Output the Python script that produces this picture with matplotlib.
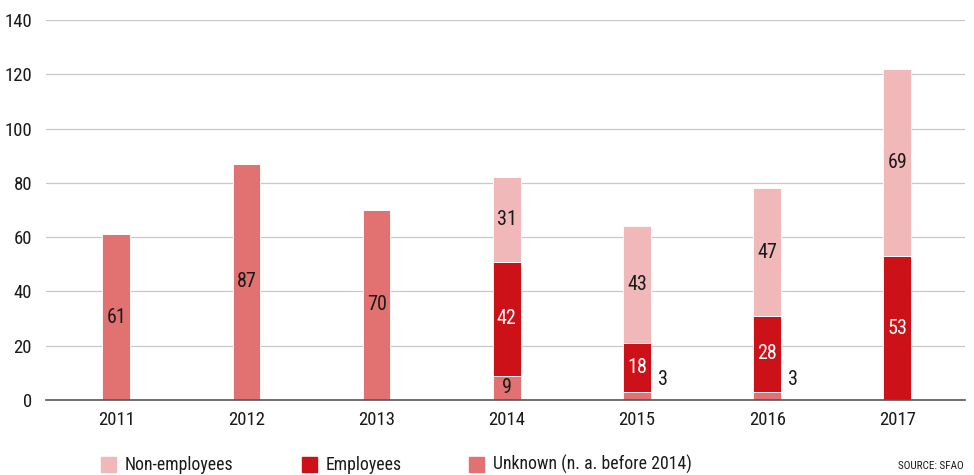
import matplotlib
matplotlib.use("Agg")
import matplotlib.pyplot as plt
from matplotlib.patches import Rectangle
import numpy as np

plt.rcParams['font.family'] = ['Roboto Condensed', 'Open Sans Condensed', 'DejaVu Sans']
plt.rcParams['font.stretch'] = 'condensed'

years = ["2011", "2012", "2013", "2014", "2015", "2016", "2017"]
unknown = [61, 87, 70, 9, 3, 3, 0]
employees = [0, 0, 0, 42, 18, 28, 53]
non_employees = [0, 0, 0, 31, 43, 47, 69]

c_unknown = "#e27171"
c_emp = "#cc1118"
c_non = "#f0b8b9"
labels_legend = ["Non-employees", "Employees", "Unknown (n. a. before 2014)"]

fig = plt.figure(figsize=(9.74, 4.75), dpi=100)
ax = fig.add_axes([46 / 974, 75 / 475, (965 - 46) / 974, 380 / 475])

x = np.arange(len(years))
w = 0.213
unk = np.array(unknown)
emp = np.array(employees)
non = np.array(non_employees)

ax.bar(x, unk, w, color=c_unknown, edgecolor="white", linewidth=0.6, zorder=3)
ax.bar(x, emp, w, bottom=unk, color=c_emp, edgecolor="white", linewidth=0.6, zorder=3)
ax.bar(x, non, w, bottom=unk + emp, color=c_non, edgecolor="white", linewidth=0.6, zorder=3)

fs = 13.5
fs_bar = 14.5
fs_leg = 12.8
for i in range(len(years)):
    if unk[i] > 0:
        if unk[i] >= 5:
            ax.text(x[i], unk[i] / 2, str(unk[i]), ha="center", va="center",
                    fontsize=fs_bar, color="#1a1a1a", zorder=4)
        else:
            ax.text(x[i] + 0.2, unk[i] + 4.5, str(unk[i]), ha="center", va="center",
                    fontsize=fs_bar, color="#1a1a1a", zorder=4)
    if emp[i] > 0:
        ax.text(x[i], unk[i] + emp[i] / 2, str(emp[i]), ha="center", va="center",
                fontsize=fs_bar, color="white", zorder=4)
    if non[i] > 0:
        ax.text(x[i], unk[i] + emp[i] + non[i] / 2, str(non[i]), ha="center", va="center",
                fontsize=fs_bar, color="#1a1a1a", zorder=4)

ax.set_xlim(-0.54, 6.52)
ax.set_ylim(0, 140)
ax.set_yticks(np.arange(0, 141, 20))
ax.set_xticks(x)
ax.set_xticklabels(years)
ax.yaxis.grid(True, color="#c8c8c8", linewidth=0.9, zorder=0)
ax.set_axisbelow(True)
for s in ["top", "right", "left"]:
    ax.spines[s].set_visible(False)
ax.spines["bottom"].set_color("#555555")
ax.spines["bottom"].set_linewidth(1.2)
ax.spines["bottom"].set_zorder(5)
ax.tick_params(axis="both", length=0, labelsize=fs, colors="#1a1a1a")
ax.tick_params(axis="y", pad=10)
ax.tick_params(axis="x", pad=8)

# legend row
items = [(101, c_non, labels_legend[0]), (302, c_emp, labels_legend[1]), (469, c_unknown, labels_legend[2])]
for px, col, lab in items:
    fig.add_artist(Rectangle((px / 974, 3 / 475), 15 / 974, 15 / 475,
                             transform=fig.transFigure, color=col))
    fig.text((px + 24) / 974, 10.5 / 475, lab, ha="left", va="center",
             fontsize=fs_leg, color="#1a1a1a")

fig.text(964 / 974, 9 / 475, "SOURCE: SFAO", ha="right", va="center",
         fontsize=8, color="#1a1a1a")

fig.savefig("out.png", dpi=100)
